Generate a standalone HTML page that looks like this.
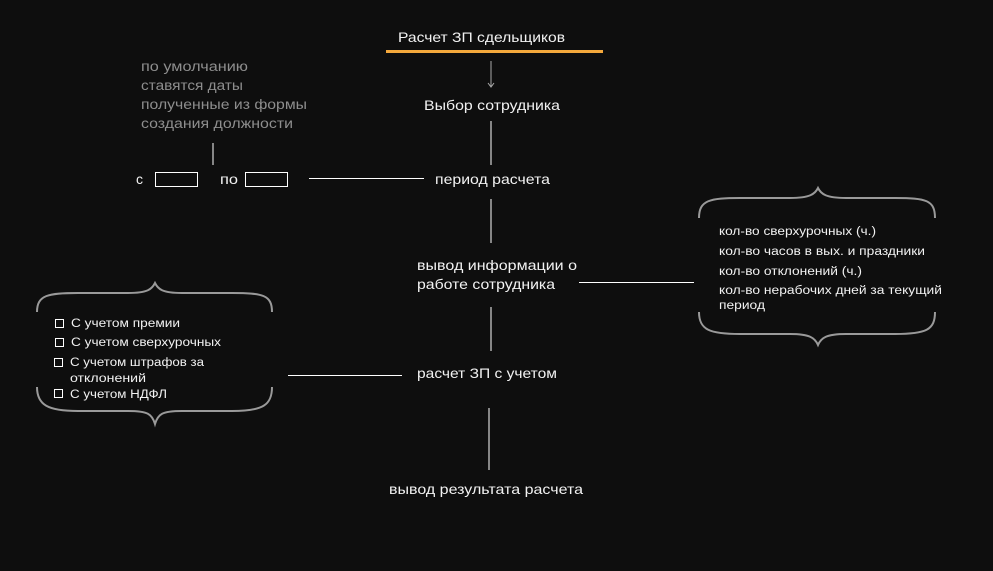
<!DOCTYPE html>
<html><head><meta charset="utf-8"><style>
html,body{margin:0;padding:0;background:#0e0e0e;}
svg{display:block}
text{font-family:"Liberation Sans","Noto Sans CJK SC",sans-serif;fill:#f2f2f2}
text.g{fill:#8e8e8e}
</style></head><body>
<svg width="993" height="571" viewBox="0 0 993 571">
<rect width="993" height="571" fill="#0e0e0e"/>
<text x="398" y="42" font-size="14" textLength="167" lengthAdjust="spacingAndGlyphs">Расчет ЗП сдельщиков</text>
<rect x="386" y="50" width="217" height="3" fill="#f5a93c"/>
<line x1="491" y1="61" x2="491" y2="86" stroke="#aaa" stroke-width="1"/>
<path d="M488 83 L491 87 L494 83" stroke="#aaa" fill="none"/>
<text x="424" y="110" font-size="14" textLength="136" lengthAdjust="spacingAndGlyphs">Выбор сотрудника</text>
<line x1="491" y1="121" x2="491" y2="165" stroke="#fff"/>
<g font-size="13.5">
<text class="g" x="141" y="71" textLength="107" lengthAdjust="spacingAndGlyphs">по умолчанию</text>
<text class="g" x="141" y="90" textLength="102" lengthAdjust="spacingAndGlyphs">ставятся даты</text>
<text class="g" x="141" y="109" textLength="166" lengthAdjust="spacingAndGlyphs">полученные из формы</text>
<text class="g" x="141" y="128" textLength="152" lengthAdjust="spacingAndGlyphs">создания должности</text>
</g>
<line x1="213" y1="143" x2="213" y2="165" stroke="#fff"/>
<text x="136" y="184" font-size="14">с</text>
<rect x="155.5" y="172.5" width="42" height="14" fill="none" stroke="#fff"/>
<text x="220" y="184" font-size="14" textLength="18" lengthAdjust="spacingAndGlyphs">по</text>
<rect x="245.5" y="172.5" width="42" height="14" fill="none" stroke="#fff"/>
<line x1="309" y1="178.5" x2="424" y2="178.5" stroke="#fff"/>
<text x="435" y="184" font-size="14" textLength="115" lengthAdjust="spacingAndGlyphs">период расчета</text>
<line x1="491" y1="199" x2="491" y2="243" stroke="#fff"/>
<text x="417" y="270" font-size="14" textLength="160" lengthAdjust="spacingAndGlyphs">вывод информации о</text>
<text x="417" y="289" font-size="14" textLength="138" lengthAdjust="spacingAndGlyphs">работе сотрудника</text>
<line x1="579" y1="282.5" x2="694" y2="282.5" stroke="#fff"/>
<line x1="491" y1="307" x2="491" y2="351" stroke="#fff"/>
<text x="417" y="378" font-size="14" textLength="140" lengthAdjust="spacingAndGlyphs">расчет ЗП с учетом</text>
<line x1="288" y1="375.5" x2="402" y2="375.5" stroke="#fff"/>
<line x1="489" y1="408" x2="489" y2="470" stroke="#fff"/>
<text x="389" y="494" font-size="14" textLength="194" lengthAdjust="spacingAndGlyphs">вывод результата расчета</text>
<g stroke="#9a9a9a" stroke-width="2" fill="none">
<path d="M699 218 C699 200 710 198 740 198 L790 198 C810 198 815 194 818 188 C821 194 826 198 846 198 L895 198 C926 198 935 200 935 218"/>
<path d="M699 312 C699 330 710 334 740 334 L790 334 C810 334 815 338 818 345 C821 338 826 334 846 334 L895 334 C926 334 935 330 935 312"/>
<path d="M37 312 C37 295 48 293 78 293 L128 293 C148 293 152 289 155 283 C158 289 162 293 182 293 L232 293 C263 293 272 295 272 312"/>
<path d="M37 387 C37 405 48 411 78 411 L128 411 C148 411 152 414 155 424 C158 414 162 411 182 411 L232 411 C263 411 272 405 272 387"/>
</g>
<g font-size="11.5">
<text x="719" y="235" textLength="157" lengthAdjust="spacingAndGlyphs">кол-во сверхурочных (ч.)</text>
<text x="719" y="255" textLength="206" lengthAdjust="spacingAndGlyphs">кол-во часов в вых. и праздники</text>
<text x="719" y="275" textLength="143" lengthAdjust="spacingAndGlyphs">кол-во отклонений (ч.)</text>
<text x="719" y="294" textLength="223" lengthAdjust="spacingAndGlyphs">кол-во нерабочих дней за текущий</text>
<text x="719" y="309" textLength="46" lengthAdjust="spacingAndGlyphs">период</text>
</g>
<g stroke="#fff" fill="none">
<rect x="55.5" y="319.5" width="8" height="8"/>
<rect x="55.5" y="338.5" width="8" height="8"/>
<rect x="54.5" y="358.5" width="8" height="8"/>
<rect x="54.5" y="389.5" width="8" height="8"/>
</g>
<g font-size="11.5">
<text x="71" y="327" textLength="109" lengthAdjust="spacingAndGlyphs">С учетом премии</text>
<text x="71" y="346" textLength="150" lengthAdjust="spacingAndGlyphs">С учетом сверхурочных</text>
<text x="70" y="366" textLength="134" lengthAdjust="spacingAndGlyphs">С учетом штрафов за</text>
<text x="70" y="382" textLength="76" lengthAdjust="spacingAndGlyphs">отклонений</text>
<text x="70" y="398" textLength="97" lengthAdjust="spacingAndGlyphs">С учетом НДФЛ</text>
</g>
</svg>
</body></html>
